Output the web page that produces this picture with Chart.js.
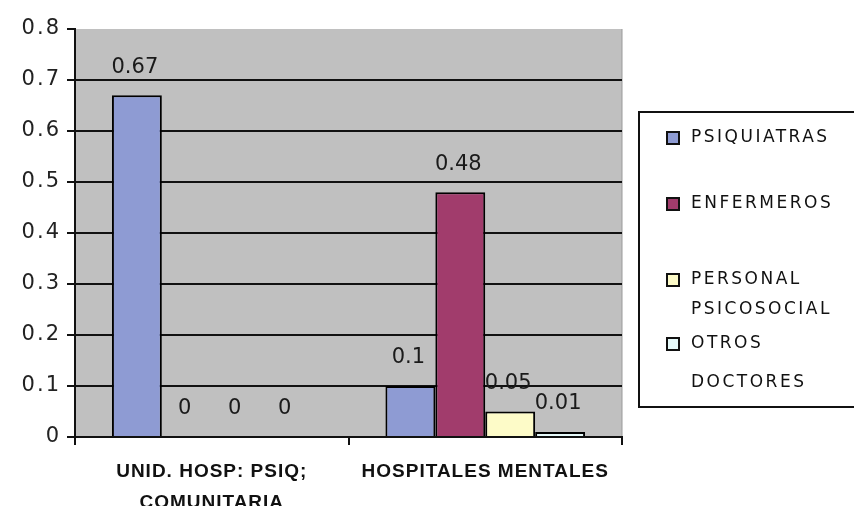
<!DOCTYPE html>
<html>
<head>
  <meta charset="UTF-8">
  <title>Personal por dispositivo</title>
  <style>
    body { margin: 0; background: #fff; }
    #wrap { width: 854px; height: 506px; }
  </style>
</head>
<body>
  <div id="wrap"><canvas id="chart" width="854" height="506"></canvas></div>

  <script src="https://cdn.jsdelivr.net/npm/chart.js"></script>
  <script>
    // Data
    const categories = [["UNID. HOSP: PSIQ;", "COMUNITARIA"], "HOSPITALES MENTALES"];
    const seriesNames = [["PSIQUIATRAS"], ["ENFERMEROS"], ["PERSONAL", "PSICOSOCIAL"], ["OTROS", "DOCTORES"]];
    const psiquiatras = [0.67, 0.1];
    const enfermeros = [0, 0.48];
    const psicosocial = [0, 0.05];
    const otros = [0, 0.01];
    const yTicks = [0, 0.1, 0.2, 0.3, 0.4, 0.5, 0.6, 0.7, 0.8];

    const colors = ["#8e9bd3", "#a13c6c", "#fdfbc8", "#e6fafa"];
    const font = "Liberation Sans, Arial, sans-serif";
    const wideFont = "DejaVu Sans, Verdana, sans-serif";

    // Gray plot area
    const plotBg = {
      id: "plotBg",
      beforeDraw(chart) {
        const { ctx, chartArea: a } = chart;
        ctx.save();
        ctx.fillStyle = "#c0c0c0";
        ctx.fillRect(a.left, a.top, a.right - a.left, a.bottom - a.top);
        ctx.strokeStyle = "#9a9a9a";
        ctx.lineWidth = 1;
        ctx.beginPath();
        ctx.moveTo(a.right, a.top);
        ctx.lineTo(a.right, a.bottom);
        ctx.stroke();
        ctx.restore();
      }
    };

    // The old chart spreads its letters a little; Chart.js has no option for it
    const spacedTicks = {
      id: "spacedTicks",
      afterUpdate(chart) {
        const spacing = { x: "1px", y: "2px" };
        Object.values(chart.scales).forEach(s => {
          if (s._spaced) return;
          const orig = s.drawLabels.bind(s);
          s.drawLabels = function (area) {
            const ctx = this.ctx;
            ctx.letterSpacing = spacing[this.id] || "0px";
            orig(area);
            ctx.letterSpacing = "0px";
          };
          s._spaced = true;
        });
      }
    };

    // Value labels above each bar
    const valueLabels = {
      id: "valueLabels",
      afterDatasetsDraw(chart) {
        const ctx = chart.ctx;
        ctx.save();
        ctx.font = "21px " + wideFont;
        ctx.letterSpacing = "0px";
        ctx.fillStyle = "#1a1a1a";
        ctx.textAlign = "center";
        ctx.textBaseline = "middle";
        chart.data.datasets.forEach((ds, i) => {
          chart.getDatasetMeta(i).data.forEach((bar, j) => {
            ctx.fillText(String(ds.data[j]), bar.x - 2, bar.y - 28);
          });
        });
        ctx.restore();
      }
    };

    // Legend box on the right (labels wrap to two lines)
    const sideLegend = {
      id: "sideLegend",
      afterDraw(chart) {
        const ctx = chart.ctx;
        const x = 639, top = 112, bottom = 407;
        const lines = [[138], [204], [280, 310], [344, 383]];
        ctx.save();
        ctx.fillStyle = "#fff";
        ctx.fillRect(x, top, 854 - x + 5, bottom - top);
        ctx.strokeStyle = "#111";
        ctx.lineWidth = 2;
        ctx.strokeRect(x, top, 854 - x + 10, bottom - top);
        ctx.font = "17px " + wideFont;
        ctx.letterSpacing = "2.5px";
        ctx.textBaseline = "middle";
        chart.data.datasets.forEach((ds, i) => {
          const y = lines[i][0];
          ctx.fillStyle = ds.backgroundColor;
          ctx.fillRect(667, y - 6, 12, 12);
          ctx.strokeStyle = "#111";
          ctx.lineWidth = 2;
          ctx.strokeRect(667, y - 6, 12, 12);
          ctx.fillStyle = "#111";
          seriesNames[i].forEach((line, k) => {
            ctx.fillText(line, 691, lines[i][k]);
          });
        });
        ctx.restore();
      }
    };

    const makeSet = (i, data) => ({
      label: seriesNames[i].join(" "),
      data: data,
      backgroundColor: colors[i],
      borderColor: "#000",
      borderWidth: 2,
      borderSkipped: "bottom"
    });

    new Chart(document.getElementById("chart").getContext("2d"), {
      type: "bar",
      data: {
        labels: categories,
        datasets: [
          makeSet(0, psiquiatras),
          makeSet(1, enfermeros),
          makeSet(2, psicosocial),
          makeSet(3, otros)
        ]
      },
      options: {
        responsive: false,
        animation: false,
        layout: { padding: { top: 29, right: 232, left: 0, bottom: 0 } },
        datasets: { bar: { categoryPercentage: 0.73, barPercentage: 1 } },
        plugins: { legend: { display: false }, tooltip: { enabled: false } },
        scales: {
          x: {
            afterFit(s) { s.height = 69; },
            grid: { drawOnChartArea: false, drawTicks: true, tickLength: 8, color: "#111", lineWidth: 2, offset: true },
            border: { color: "#111", width: 2 },
            ticks: {
              color: "#111",
              font: { family: font, size: 19, weight: "bold", lineHeight: 1.6 },
              padding: 12,
              maxRotation: 0,
              autoSkip: false
            }
          },
          y: {
            min: 0,
            max: 0.8,
            afterFit(s) { s.width = 75; },
            afterBuildTicks(s) { s.ticks = yTicks.map(v => ({ value: v })); },
            grid: {
              color: c => (c.tick && c.tick.value === 0.8 ? "rgba(0,0,0,0)" : "#111"),
              tickColor: "#111",
              lineWidth: 2,
              tickLength: 8
            },
            border: { color: "#111", width: 2 },
            ticks: {
              color: "#222",
              font: { family: wideFont, size: 21 },
              padding: 6,
              callback: v => String(v)
            }
          }
        }
      },
      plugins: [plotBg, spacedTicks, valueLabels, sideLegend]
    });
  </script>
</body>
</html>
